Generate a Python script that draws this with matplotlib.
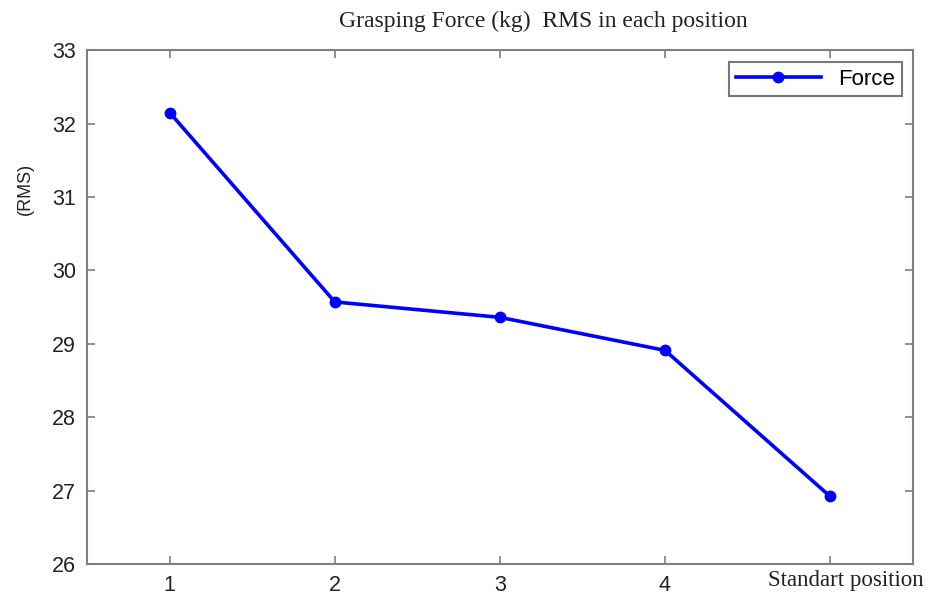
import matplotlib
matplotlib.use('Agg')
import matplotlib.pyplot as plt

positions = [1, 2, 3, 4, 5]
force = [32.15, 29.57, 29.36, 28.91, 26.92]
xtick_labels = ['1', '2', '3', '4', '']

plt.rcParams['font.family'] = ['Liberation Sans', 'DejaVu Sans']

fig = plt.figure(figsize=(9.37, 5.98), dpi=100)
ax = fig.add_axes([0.093, 0.057, 0.881, 0.859])

ax.plot(positions, force, '-o', color='#0000ff', lw=2.6, ms=7.5, label='Force')

ax.set_xlim(0.5, 5.5)
ax.set_ylim(26, 33)
ax.set_xticks(positions)
ax.set_xticklabels(xtick_labels)
ax.set_yticks(range(26, 34))

for s in ax.spines.values():
    s.set_color('#7f7f7f')
    s.set_linewidth(1.5)
ax.tick_params(direction='in', length=6, width=1.2, color='#7f7f7f',
               top=True, right=True, labelsize=15.5, labelcolor='#222222', pad=8)

ax.set_ylabel('(RMS)', fontsize=13, color='#222222')
ax.yaxis.set_label_coords(-0.064, 0.73)

fig.text(0.58, 0.964, 'Grasping Force (kg)  RMS in each position',
         family='Liberation Serif', fontsize=17, ha='center', va='center',
         color='#222222')
fig.text(0.903, 0.03, 'Standart position', family='Liberation Serif',
         fontsize=16.5, ha='center', va='center', color='#222222')

leg = ax.legend(loc='upper right', fontsize=16, frameon=True, fancybox=False,
                handlelength=3.8, borderpad=0.3, borderaxespad=0,
                bbox_to_anchor=(0.987, 0.977))
leg.get_frame().set_edgecolor('#555555')
leg.get_frame().set_linewidth(1.5)

fig.savefig('out.png', dpi=100)
